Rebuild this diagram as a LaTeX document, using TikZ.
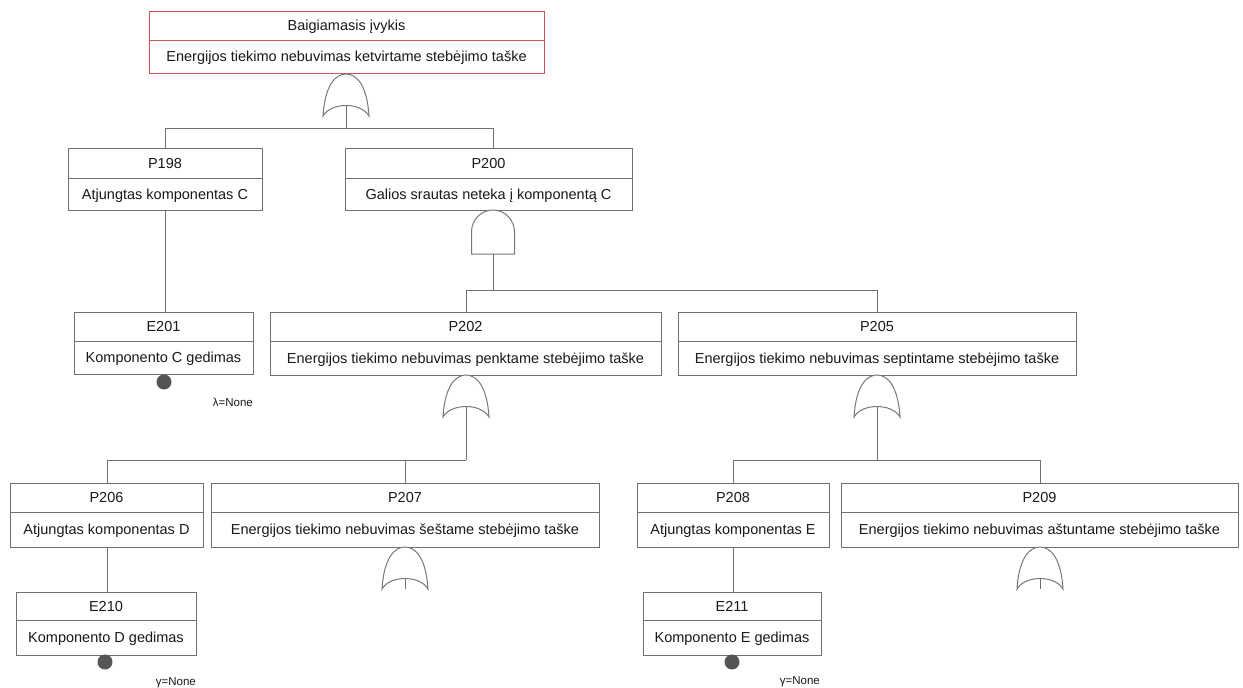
\documentclass[tikz,border=0pt]{standalone}
\usepackage{fontspec}
\setmainfont{Liberation Sans}
\definecolor{boxgray}{RGB}{112,112,112}
\definecolor{topred}{RGB}{205,85,85}
\definecolor{gategray}{RGB}{120,120,120}
\definecolor{inkc}{RGB}{25,25,25}
\definecolor{dotgray}{RGB}{85,85,85}

\tikzset{
  box/.style={draw=boxgray, line width=1pt},
  topbox/.style={draw=topred, line width=1pt},
  boxshape/.style={rectangle, inner sep=0pt, outer sep=0pt},
  txt/.style={inner sep=0pt, text height=10pt, text depth=0pt, text=inkc,
    font=\fontsize{14.5}{16}\selectfont},
  wire/.style={draw=boxgray, line width=1pt},
  gate/.style={draw=gategray, line width=1pt, fill=white},
  basicdot/.style={circle, fill=dotgray, inner sep=0pt, minimum size=15pt},
  note/.style={inner sep=0pt, text=inkc, font=\fontsize{11.5}{13}\selectfont,
    anchor=base east},
}

% event box: name, left, right, top, divider, bottom, title, description, style
\newcommand\evbox[9]{%
  \node[boxshape, #9, minimum width={(#3)-(#2)}, minimum height={(#6)-(#4)}]
    (#1) at ({((#2)+(#3))/2},{((#4)+(#6))/2}) {};
  \draw[#9] (#2,#5) -- (#3,#5);
  \node[txt] (#1-t) at ({((#2)+(#3))/2},{((#4)+(#5))/2}) {#7};
  \node[txt] (#1-d) at ({((#2)+(#3))/2},{((#5)+(#6))/2}) {#8};
}

% OR gate with its apex at (x,y); output point is #1-out
\newcommand\orgate[3]{%
  \begin{scope}[shift={(#2,#3)}]
    \draw[gate] (0,0) .. controls (10,0) and (21,10) .. (23,42)
      .. controls (15,28) and (-15,28) .. (-23,42)
      .. controls (-21,10) and (-10,0) .. (0,0) -- cycle;
    \coordinate (#1) at (0,0);
    \coordinate (#1-out) at (0,31.5);
  \end{scope}}

% AND gate with its top at (x,y); output point is #1-out
\newcommand\andgate[3]{%
  \begin{scope}[shift={(#2,#3)}]
    \draw[gate] (-21.5,44) -- (-21.5,22)
      .. controls (-21.5,10) and (-12,0) .. (0,0)
      .. controls (12,0) and (21.5,10) .. (21.5,22) -- (21.5,44) -- cycle;
    \coordinate (#1) at (0,0);
    \coordinate (#1-out) at (0,44);
  \end{scope}}

\begin{document}
\begin{tikzpicture}[x=1pt,y=-1pt]
\useasboundingbox[fill=white] (0,0) rectangle (1243,688);

% events
\evbox{top}{149}{544}{11}{40}{73}{Baigiamasis įvykis}{Energijos tiekimo nebuvimas ketvirtame stebėjimo taške}{topbox}
\evbox{p198}{68}{262}{148}{178}{210}{P198}{Atjungtas komponentas C}{box}
\evbox{p200}{345}{632}{148}{178}{210}{P200}{Galios srautas neteka į komponentą C}{box}
\evbox{e201}{74}{253}{312}{341}{374}{E201}{Komponento C gedimas}{box}
\evbox{p202}{270}{661}{312}{341}{375}{P202}{Energijos tiekimo nebuvimas penktame stebėjimo taške}{box}
\evbox{p205}{678}{1076}{312}{341}{375}{P205}{Energijos tiekimo nebuvimas septintame stebėjimo taške}{box}
\evbox{p206}{10}{203}{483}{512}{547}{P206}{Atjungtas komponentas D}{box}
\evbox{p207}{211}{599}{483}{512}{547}{P207}{Energijos tiekimo nebuvimas šeštame stebėjimo taške}{box}
\evbox{p208}{637}{829}{483}{512}{547}{P208}{Atjungtas komponentas E}{box}
\evbox{p209}{841}{1238}{483}{512}{547}{P209}{Energijos tiekimo nebuvimas aštuntame stebėjimo taške}{box}
\evbox{e210}{16}{196}{592}{620}{655}{E210}{Komponento D gedimas}{box}
\evbox{e211}{643}{821}{592}{620}{655}{E211}{Komponento E gedimas}{box}

% bus bars
\coordinate (b0l) at (165,128);  \coordinate (b0r) at (493,128);
\coordinate (b1l) at (466,290);  \coordinate (b1r) at (877,290);
\coordinate (b2l) at (107,460);  \coordinate (b2m) at (405,460);  \coordinate (b2r) at (466,460);
\coordinate (b3l) at (733,460);  \coordinate (b3r) at (1040,460);

% gates
\orgate{g0}{346}{74}
\andgate{g1}{493}{210}
\orgate{g2}{466}{375}
\orgate{g3}{877}{375}
\orgate{g4}{405}{547}
\orgate{g5}{1040}{547}

% connectors
\draw[wire] (g0-out) -- (g0-out |- b0l);
\draw[wire] (p198.north -| b0l) -- (b0l) -- (b0r) -- (p200.north -| b0r);
\draw[wire] (p198.south -| b0l) -- (e201.north -| b0l);

\draw[wire] (g1-out) -- (g1-out |- b1l);
\draw[wire] (p202.north -| b1l) -- (b1l) -- (b1r) -- (p205.north -| b1r);

\draw[wire] (g2-out) -- (g2-out |- b2r);
\draw[wire] (p206.north -| b2l) -- (b2l) -- (b2r);
\draw[wire] (b2m) -- (p207.north -| b2m);
\draw[wire] (p206.south -| b2l) -- (e210.north -| b2l);

\draw[wire] (g3-out) -- (g3-out |- b3l);
\draw[wire] (p208.north -| b3l) -- (b3l) -- (b3r) -- (p209.north -| b3r);
\draw[wire] (p208.south -| b3l) -- (e211.north -| b3l);

\draw[wire] (g4-out) -- ++(0,10);
\draw[wire] (g5-out) -- ++(0,10);

% basic events
\node[basicdot] (e201-dot) at (164,382) {};
\node[basicdot] (e210-dot) at (105,662) {};
\node[basicdot] (e211-dot) at (732,662) {};
\node[note] (e201-rate) at (253,406) {λ=None};
\node[note] (e210-rate) at (196,685) {γ=None};
\node[note] (e211-rate) at (820,684) {γ=None};
\end{tikzpicture}
\end{document}
